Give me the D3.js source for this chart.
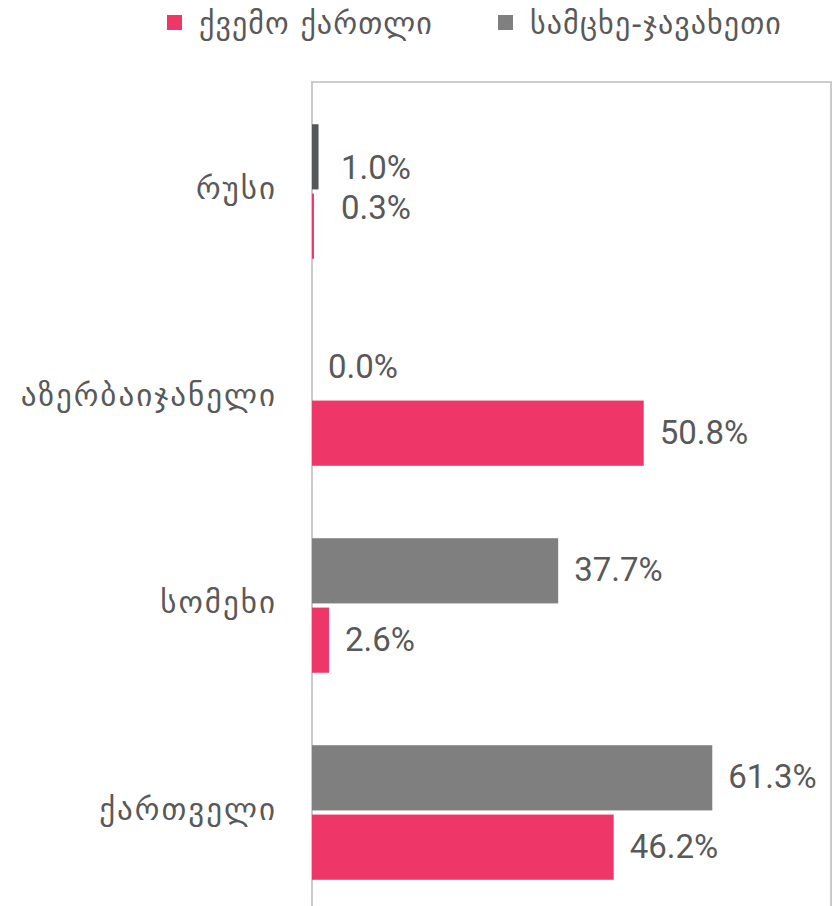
<!DOCTYPE html>
<html lang="ka">
<head>
    <meta charset="UTF-8">
    <title>ეთნიკური შემადგენლობა</title>
    <script src="https://cdn.jsdelivr.net/npm/d3@7"></script>
    <style>
        body { margin: 0; background: #fff; }
    </style>
</head>
<body>
<script type="application/javascript">

    // data
    let categories = ['რუსი', 'აზერბაიჯანელი', 'სომეხი', 'ქართველი'];
    let seriesNames = ['სამცხე-ჯავახეთი', 'ქვემო ქართლი'];
    let samtskhe = [1.0, 0.0, 37.7, 61.3];
    let kvemo = [0.3, 50.8, 2.6, 46.2];
    let legendOrder = ['ქვემო ქართლი', 'სამცხე-ჯავახეთი'];

    let w = 832, h = 906;
    let mLeft = 312, mTop = 88, mBottom = 916, mRight = 831;
    let colors = {'ქვემო ქართლი': '#ee3768', 'სამცხე-ჯავახეთი': '#7f7f7f'};
    let textCol = '#595959';

    let svg = d3.select('body')
        .append('svg')
        .attr('width', w)
        .attr('height', h);

    let x = d3.scaleLinear()
        .domain([0, 1])
        .range([mLeft, mLeft + 6.53]);

    let y = d3.scaleBand()
        .domain(categories)
        .range([mTop, mBottom])
        .paddingInner(0.35)
        .paddingOuter(0.175);

    let y1 = d3.scaleBand()
        .domain(seriesNames)
        .range([0, y.bandwidth()])
        .paddingInner(0.06);

    // plot frame (left, top, right edges)
    svg.append('path')
        .attr('d', 'M' + mLeft + ',' + h + 'V82H' + mRight + 'V' + h)
        .attr('fill', 'none')
        .attr('stroke', '#bdbdbd')
        .attr('stroke-width', 1.6);

    let rows = categories.map((c, i) => ({
        cat: c,
        vals: [
            {s: seriesNames[0], v: samtskhe[i]},
            {s: seriesNames[1], v: kvemo[i]}
        ]
    }));

    let groups = svg.selectAll('g.grp')
        .data(rows)
        .enter()
        .append('g')
        .attr('class', 'grp')
        .attr('transform', d => 'translate(0,' + y(d.cat) + ')');

    groups.selectAll('rect')
        .data(d => d.vals.map(v => Object.assign({cat: d.cat}, v)))
        .enter()
        .append('rect')
        .attr('x', x(0))
        .attr('y', d => y1(d.s))
        .attr('width', d => x(d.v) - x(0))
        .attr('height', y1.bandwidth())
        // the tiny russian bar is drawn darker in the original
        .attr('fill', d => d.cat === 'რუსი' && d.s === seriesNames[0] ? '#54575b' : colors[d.s]);

    // labels in the first group were nudged apart in the source chart
    let nudge = {'რუსი': [12, -18], 'აზერბაიჯანელი': [4, 0]};

    groups.selectAll('text')
        .data(d => d.vals.map((v, j) => Object.assign({cat: d.cat, j: j}, v)))
        .enter()
        .append('text')
        .attr('x', d => d.cat === 'რუსი' ? 341 : x(d.v) + 16)
        .attr('y', d => y1(d.s) + y1.bandwidth() / 2 - 1 + (nudge[d.cat] ? nudge[d.cat][d.j] : 0))
        .attr('dominant-baseline', 'central')
        .attr('font-family', 'Roboto, sans-serif')
        .attr('font-size', 33)
        .attr('fill', textCol)
        .text(d => d.v.toFixed(1) + '%');

    // category axis
    let yAxis = d3.axisLeft(y).tickSize(0).tickPadding(35);
    let ga = svg.append('g')
        .attr('transform', 'translate(' + mLeft + ',0)')
        .call(yAxis);
    ga.select('.domain').remove();
    ga.selectAll('text')
        .attr('font-family', '"DejaVu Sans", sans-serif')
        .attr('font-size', 31)
        .attr('letter-spacing', 2)
        .attr('fill', textCol)
        .attr('dy', '0.25em');

    // legend
    let legX = [167, 498];
    let leg = svg.selectAll('g.leg')
        .data(legendOrder)
        .enter()
        .append('g')
        .attr('class', 'leg')
        .attr('transform', (d, i) => 'translate(' + legX[i] + ',15)');

    leg.append('rect')
        .attr('width', 15)
        .attr('height', 15)
        .attr('fill', d => colors[d]);

    leg.append('text')
        .attr('x', 32)
        .attr('y', 8)
        .attr('dominant-baseline', 'central')
        .attr('font-family', '"DejaVu Sans", sans-serif')
        .attr('font-size', 30)
        .attr('letter-spacing', 1.1)
        .attr('fill', textCol)
        .text(d => d);

</script>
</body>
</html>
